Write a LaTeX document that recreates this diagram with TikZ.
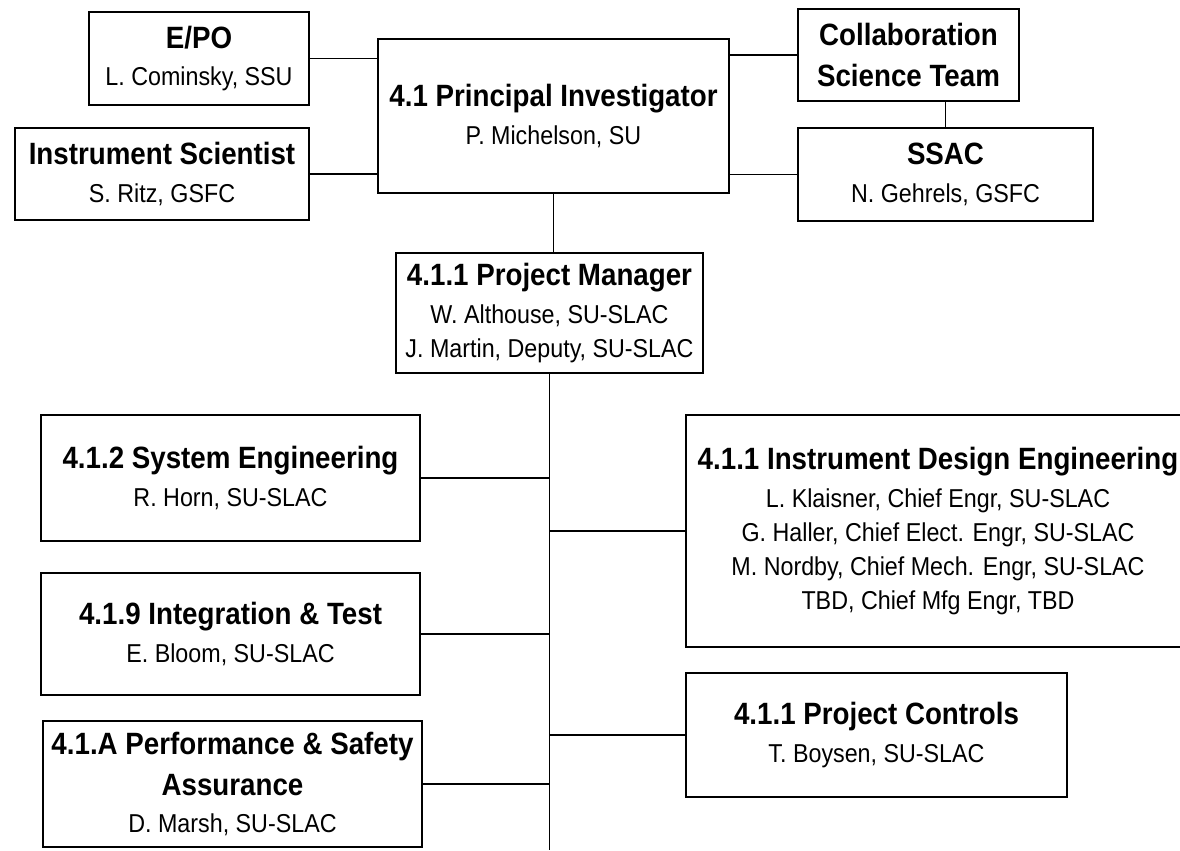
\documentclass[tikz,border=0pt]{standalone}
\usepackage{fontspec}
\setmainfont{Liberation Sans}[FakeStretch=0.9]

\newcommand{\ttl}[1]{{\fontsize{23.1}{31}\selectfont\bfseries #1}}

\begin{document}
\begin{tikzpicture}[x=0.75pt,y=-0.75pt]
                \tikzset{orgbox/.style={draw, line width=1.8pt, align=center, inner sep=0pt,
                font=\fontsize{19.4}{25.5}\selectfont}, link/.style={line width=1.4pt}}

                \useasboundingbox (0,0) rectangle (1180,850);

                \node[orgbox, minimum width=263.25pt, minimum height=115.5pt] (pi) at (553.5,116) {\ttl{4.1 Principal Investigator}\\[2.5pt] P. Michelson, SU};
                \node[orgbox, minimum width=165pt, minimum height=69.75pt] (epo) at (199,58.5) {\ttl{E/PO}\\[2.5pt] L. Cominsky, SSU};
                \node[orgbox, minimum width=220.5pt, minimum height=69pt] (isci) at (162,174) {\ttl{Instrument Scientist}\\[2.5pt] S. Ritz, GSFC};
                \node[orgbox, minimum width=165.75pt, minimum height=69pt] (cst) at (908.5,55) {\ttl{Collaboration}\\[5pt] \ttl{Science Team}};
                \node[orgbox, minimum width=221.25pt, minimum height=69.75pt] (ssac) at (945.5,174.5) {\ttl{SSAC}\\[2.5pt] N. Gehrels, GSFC};
                \node[orgbox, minimum width=230.25pt, minimum height=90pt] (pm) at (549.5,313) {\ttl{4.1.1 Project Manager}\\[2.5pt] W. Althouse, SU-SLAC\\ J. Martin, Deputy, SU-SLAC};
                \node[orgbox, minimum width=284.25pt, minimum height=94.5pt] (sys) at (230.5,478) {\ttl{4.1.2 System Engineering}\\[2.5pt] R. Horn, SU-SLAC};
                \node[orgbox, minimum width=284.25pt, minimum height=91.5pt] (int) at (230.5,634) {\ttl{4.1.9 Integration \& Test}\\[2.5pt] E. Bloom, SU-SLAC};
                \node[orgbox, minimum width=284.25pt, minimum height=94.5pt] (perf) at (232.5,784) {\ttl{4.1.A Performance \& Safety}\\[5pt] \ttl{Assurance}\\[2.5pt] D. Marsh, SU-SLAC};
                \node[orgbox, minimum width=378pt, minimum height=174pt] (ide) at (938,531) {\ttl{4.1.1 Instrument Design Engineering}\\[2.5pt] L. Klaisner, Chief Engr, SU-SLAC\\ G. Haller, Chief Elect. Engr, SU-SLAC\\ M. Nordby, Chief Mech. Engr, SU-SLAC\\ TBD, Chief Mfg Engr, TBD};
                \node[orgbox, minimum width=285.75pt, minimum height=93pt] (pc) at (876.5,735) {\ttl{4.1.1 Project Controls}\\[2.5pt] T. Boysen, SU-SLAC};
                \coordinate (tend) at (549.5,850);

                \draw[link] (epo.east) -- (epo.east -| pi.west);
                \draw[link] (isci.east) -- (isci.east -| pi.west);
                \draw[link] (cst.west) -- (cst.west -| pi.east);
                \draw[link] (ssac.west) -- (ssac.west -| pi.east);
                \draw[link] (ssac.north) -- (ssac.north |- cst.south);
                \draw[link] (pi.south) -- (pi.south |- pm.north);
                \draw[link] (pm.south) -- (tend);
                \draw[link] (sys.east) -- (sys.east -| pm.south);
                \draw[link] (int.east) -- (int.east -| pm.south);
                \draw[link] (perf.east) -- (perf.east -| pm.south);
                \draw[link] (ide.west) -- (ide.west -| pm.south);
                \draw[link] (pc.west) -- (pc.west -| pm.south);
            \end{tikzpicture}
\end{document}
